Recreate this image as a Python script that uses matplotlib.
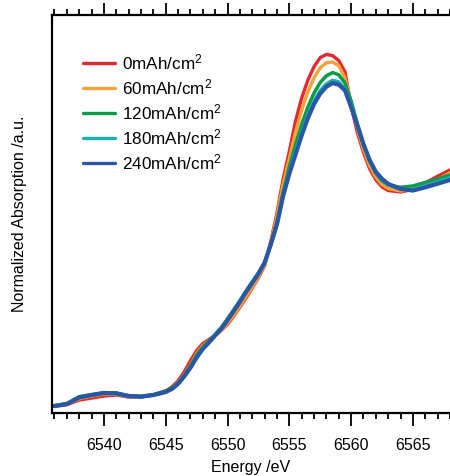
import matplotlib
matplotlib.use("Agg")
import matplotlib.pyplot as plt
from matplotlib.ticker import MultipleLocator

plt.rcParams['font.family'] = ['Liberation Sans', 'DejaVu Sans']
plt.rcParams['mathtext.fontset'] = 'custom'
plt.rcParams['mathtext.rm'] = 'Liberation Sans'

energy = [6536, 6537, 6538, 6539, 6540, 6541, 6542, 6543, 6544, 6545, 6545.5, 6546, 6546.5,
          6547, 6547.5, 6548, 6548.5, 6549, 6549.5, 6550, 6550.5, 6551, 6551.5, 6552, 6552.5,
          6553, 6553.5, 6554, 6554.5, 6555, 6555.5, 6556, 6556.5, 6557, 6557.5, 6558, 6558.5,
          6559, 6559.5, 6560, 6560.5, 6561, 6561.5, 6562, 6562.5, 6563, 6564, 6565, 6566, 6567, 6568]

abs_0 = [-0.055, -0.048, -0.025, -0.015, -0.005, 0.000, -0.010, -0.010, 0.000, 0.020, 0.040, 0.070, 0.115,
         0.170, 0.220, 0.255, 0.275, 0.295, 0.320, 0.350, 0.390, 0.435, 0.480, 0.530, 0.580,
         0.640, 0.760, 0.900, 1.070, 1.205, 1.355, 1.470, 1.559, 1.625, 1.670, 1.686, 1.680,
         1.655, 1.600, 1.430, 1.300, 1.200, 1.120, 1.065, 1.030, 1.012, 1.005, 1.018, 1.050, 1.083, 1.114]

abs_60 = [-0.055, -0.046, -0.018, -0.005, 0.005, 0.004, -0.008, -0.009, 0.000, 0.018, 0.035, 0.062, 0.100,
          0.150, 0.205, 0.245, 0.268, 0.293, 0.320, 0.355, 0.395, 0.440, 0.487, 0.535, 0.585,
          0.642, 0.750, 0.885, 1.045, 1.170, 1.300, 1.410, 1.500, 1.570, 1.620, 1.645, 1.648,
          1.630, 1.570, 1.450, 1.320, 1.215, 1.135, 1.078, 1.042, 1.022, 1.010, 1.018, 1.042, 1.068, 1.100]

abs_120 = [-0.052, -0.042, -0.008, 0.002, 0.012, 0.010, -0.003, -0.006, 0.002, 0.020, 0.035, 0.060, 0.098,
           0.145, 0.198, 0.238, 0.268, 0.300, 0.335, 0.378, 0.422, 0.467, 0.515, 0.560, 0.605,
           0.655, 0.745, 0.855, 1.005, 1.130, 1.240, 1.340, 1.425, 1.495, 1.547, 1.580, 1.596,
           1.585, 1.545, 1.455, 1.345, 1.240, 1.158, 1.098, 1.060, 1.040, 1.028, 1.035, 1.052, 1.070, 1.089]

abs_180 = [-0.054, -0.044, -0.012, 0.000, 0.010, 0.008, -0.006, -0.009, -0.001, 0.014, 0.030, 0.056, 0.093,
           0.137, 0.188, 0.230, 0.262, 0.296, 0.330, 0.372, 0.417, 0.462, 0.512, 0.557, 0.602,
           0.652, 0.742, 0.845, 0.988, 1.105, 1.205, 1.300, 1.385, 1.455, 1.507, 1.540, 1.558,
           1.550, 1.515, 1.435, 1.335, 1.240, 1.160, 1.100, 1.064, 1.040, 1.020, 1.018, 1.035, 1.055, 1.076]

abs_240 = [-0.055, -0.045, -0.012, 0.000, 0.010, 0.008, -0.005, -0.008, 0.000, 0.015, 0.030, 0.055, 0.092,
           0.135, 0.185, 0.228, 0.260, 0.295, 0.328, 0.370, 0.415, 0.460, 0.510, 0.555, 0.600,
           0.655, 0.745, 0.845, 0.985, 1.095, 1.190, 1.285, 1.370, 1.440, 1.492, 1.526, 1.544,
           1.536, 1.508, 1.425, 1.335, 1.242, 1.163, 1.105, 1.070, 1.045, 1.020, 1.012, 1.028, 1.046, 1.064]

labels = [r'0mAh/cm$\mathregular{^2}$', r'60mAh/cm$\mathregular{^2}$', r'120mAh/cm$\mathregular{^2}$',
          r'180mAh/cm$\mathregular{^2}$', r'240mAh/cm$\mathregular{^2}$']
series = [abs_0, abs_60, abs_120, abs_180, abs_240]
colors = ['#E8262B', '#F7A234', '#0F9A4A', '#19B2B4', '#2A56A6']
widths = [2.4, 2.4, 2.5, 2.5, 3.0]

fig = plt.figure(figsize=(4.5, 4.76), dpi=100)
ax = fig.add_axes([52/450, 63/476, 398/450, 398/476])

for y, c, lab, w in zip(series, colors, labels, widths):
    ax.plot(energy, y, color=c, lw=w, label=lab, solid_capstyle='round')

ax.set_xlim(6535.8, 6568.0)
ax.set_ylim(-0.089, 1.881)

ax.spines['right'].set_visible(False)
for s in ['left', 'bottom', 'top']:
    ax.spines[s].set_linewidth(1.6)
    ax.spines[s].set_color('black')

ax.xaxis.set_major_locator(MultipleLocator(5))
ax.xaxis.set_minor_locator(MultipleLocator(1))
ax.tick_params(axis='x', which='both', direction='out', top=True, bottom=True,
               labeltop=False, width=1.3, color='black')
ax.tick_params(axis='x', which='major', length=9, labelsize=11.5, pad=9)
ax.tick_params(axis='x', which='minor', length=4.5)
ax.tick_params(axis='y', which='both', left=False, labelleft=False)

ax.set_xlabel('Energy /eV', fontsize=11.5, labelpad=5)
ax.set_ylabel('Normalized Absorption /a.u.', fontsize=11.5, labelpad=18)

leg = ax.legend(loc='upper left', bbox_to_anchor=(31/398, 0.907), frameon=False,
                fontsize=12.3, handlelength=1.9, handletextpad=0.4, labelspacing=0.3,
                borderpad=0, borderaxespad=0)
for line in leg.get_lines():
    line.set_linewidth(2.4)

fig.savefig('out.png', dpi=100)
